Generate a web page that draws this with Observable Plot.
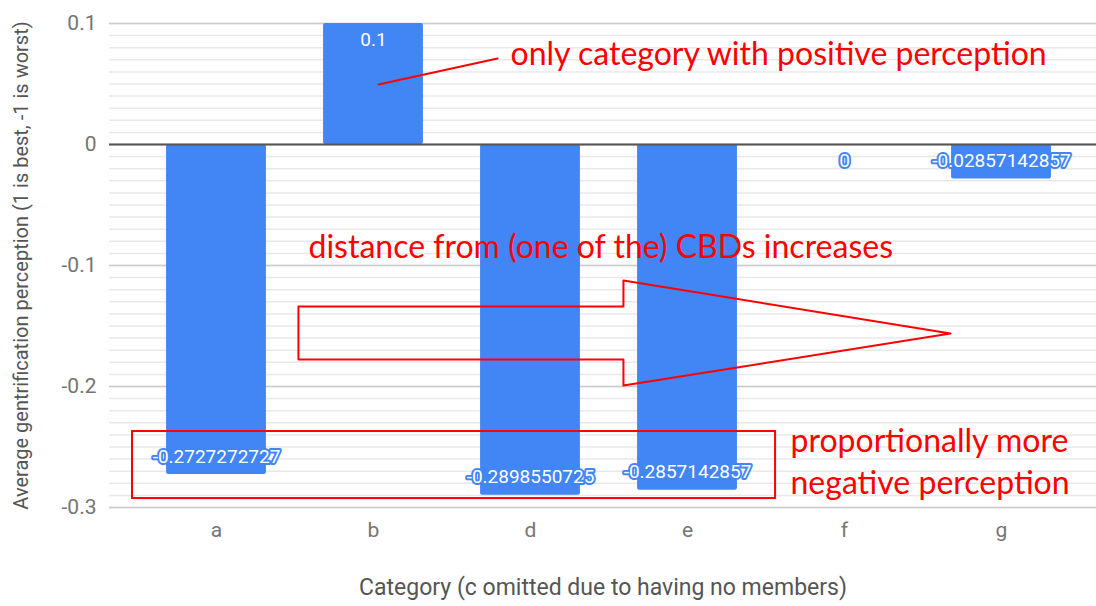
<!DOCTYPE html>
<html><head><meta charset="utf-8">
<script src="https://cdn.jsdelivr.net/npm/d3@7"></script>
<script src="https://cdn.jsdelivr.net/npm/@observablehq/plot@0.6"></script>
<style>body{margin:0;background:#fff;overflow:hidden}</style>
</head><body><div id="chart"></div>
<script>
// ---- data ----
const categories = ["a", "b", "d", "e", "f", "g"];
const values = [-0.2727272727, 0.1, -0.2898550725, -0.2857142857, 0, -0.02857142857];
const valueLabels = ["-0.2727272727", "0.1", "-0.2898550725", "-0.2857142857", "0", "-0.02857142857"];
const yTicks = [-0.3, -0.2, -0.1, 0, 0.1];
const yTickLabels = ["-0.3", "-0.2", "-0.1", "0", "0.1"];
const xTitle = "Category (c omitted due to having no members)";
const yTitle = "Average gentrification perception (1 is best, -1 is worst)";

// ---- annotations (in data units: x = category index, y = value) ----
const note1 = {text: "only category with positive perception", x: 1.873, y: 0.0744};
const note1Line = [{x: 1.032, y: 0.0496}, {x: 1.79, y: 0.0711}];
const note2 = {text: "distance from (one of the) CBDs increases", x: 0.586, y: -0.0851};
const arrowPts = [
  {x: 0.522, y: -0.1339}, {x: 2.592, y: -0.1339}, {x: 2.592, y: -0.1124},
  {x: 4.675, y: -0.1562}, {x: 2.592, y: -0.1992}, {x: 2.592, y: -0.1777},
  {x: 0.522, y: -0.1777}, {x: 0.522, y: -0.1339}
];
const boxRect = {x1: -0.535, x2: 3.561, y1: -0.2372, y2: -0.2926};
const note3 = {text: "proportionally more\nnegative perception", x: 3.656, y: -0.2603};

const data = categories.map((c, i) => ({i, c, v: values[i], lab: valueLabels[i]}));
const minor = d3.ticks(-0.3, 0.1, 40);
const blue = "#4285f4";
const red = "#ff0000";
const annFont = "Lato, 'Open Sans', sans-serif";

const chart = Plot.plot({
  width: 1096,
  height: 606,
  marginLeft: 109,
  marginRight: 0,
  marginTop: 23,
  marginBottom: 99,
  style: {fontFamily: "Roboto, sans-serif", background: "#fff"},
  x: {type: "linear", domain: [-0.6815, 5.605]},
  y: {domain: [-0.3, 0.1]},
  marks: [
    Plot.ruleY(minor, {stroke: "#e8e8e8", strokeWidth: 1.5}),
    Plot.ruleY(yTicks, {stroke: "#cccccc", strokeWidth: 1.5}),
    Plot.rect(data, {x1: d => d.i - 0.318, x2: d => d.i + 0.318, y1: 0, y2: "v", fill: blue, rx: 2}),
    Plot.ruleY([0], {stroke: "#555", strokeWidth: 2}),
    Plot.axisY({ticks: yTicks, tickFormat: (d, k) => yTickLabels[k], tickSize: 0, tickPadding: 13,
      fontSize: 21, color: "#757575", label: yTitle, labelAnchor: "center", labelArrow: "none", labelOffset: 96}),
    Plot.axisX({ticks: [0, 1, 2, 3, 4, 5], tickFormat: i => categories[i], tickSize: 0, tickPadding: 15,
      fontSize: 21, color: "#757575", label: xTitle, labelAnchor: "center", labelArrow: "none", labelOffset: 87}),
    // annotations
    Plot.line(note1Line, {x: "x", y: "y", stroke: red, strokeWidth: 2}),
    Plot.line(arrowPts, {x: "x", y: "y", stroke: red, strokeWidth: 2, curve: "linear"}),
    Plot.rect([boxRect], {x1: "x1", x2: "x2", y1: "y1", y2: "y2", fill: "none", stroke: red, strokeWidth: 2}),
    Plot.text([note1], {x: "x", y: "y", text: "text", textAnchor: "start", fill: red, fontSize: 32, fontFamily: annFont}),
    Plot.text([note2], {x: "x", y: "y", text: "text", textAnchor: "start", fill: red, fontSize: 32, fontFamily: annFont}),
    Plot.text([note3], {x: "x", y: "y", text: "text", textAnchor: "start", fill: red, fontSize: 32, lineHeight: 1.31, fontFamily: annFont}),
    // value labels
    Plot.text(data.filter(d => d.v >= 0), {x: "i", y: "v", text: "lab", dy: 16, fill: "white", stroke: blue, strokeWidth: 4, fontSize: 19}),
    Plot.text(data.filter(d => d.v < 0), {x: "i", y: "v", text: "lab", dy: -18, fill: "white", stroke: blue, strokeWidth: 4, fontSize: 19})
  ]
});
document.getElementById("chart").append(chart);
// axis title styling
chart.querySelectorAll("g[aria-label='y-axis label'] text").forEach(t => { t.setAttribute("fill", "#555"); t.setAttribute("font-size", "20"); });
chart.querySelectorAll("g[aria-label='x-axis label'] text").forEach(t => { t.setAttribute("fill", "#555"); t.setAttribute("font-size", "23"); });
</script>
</body></html>
